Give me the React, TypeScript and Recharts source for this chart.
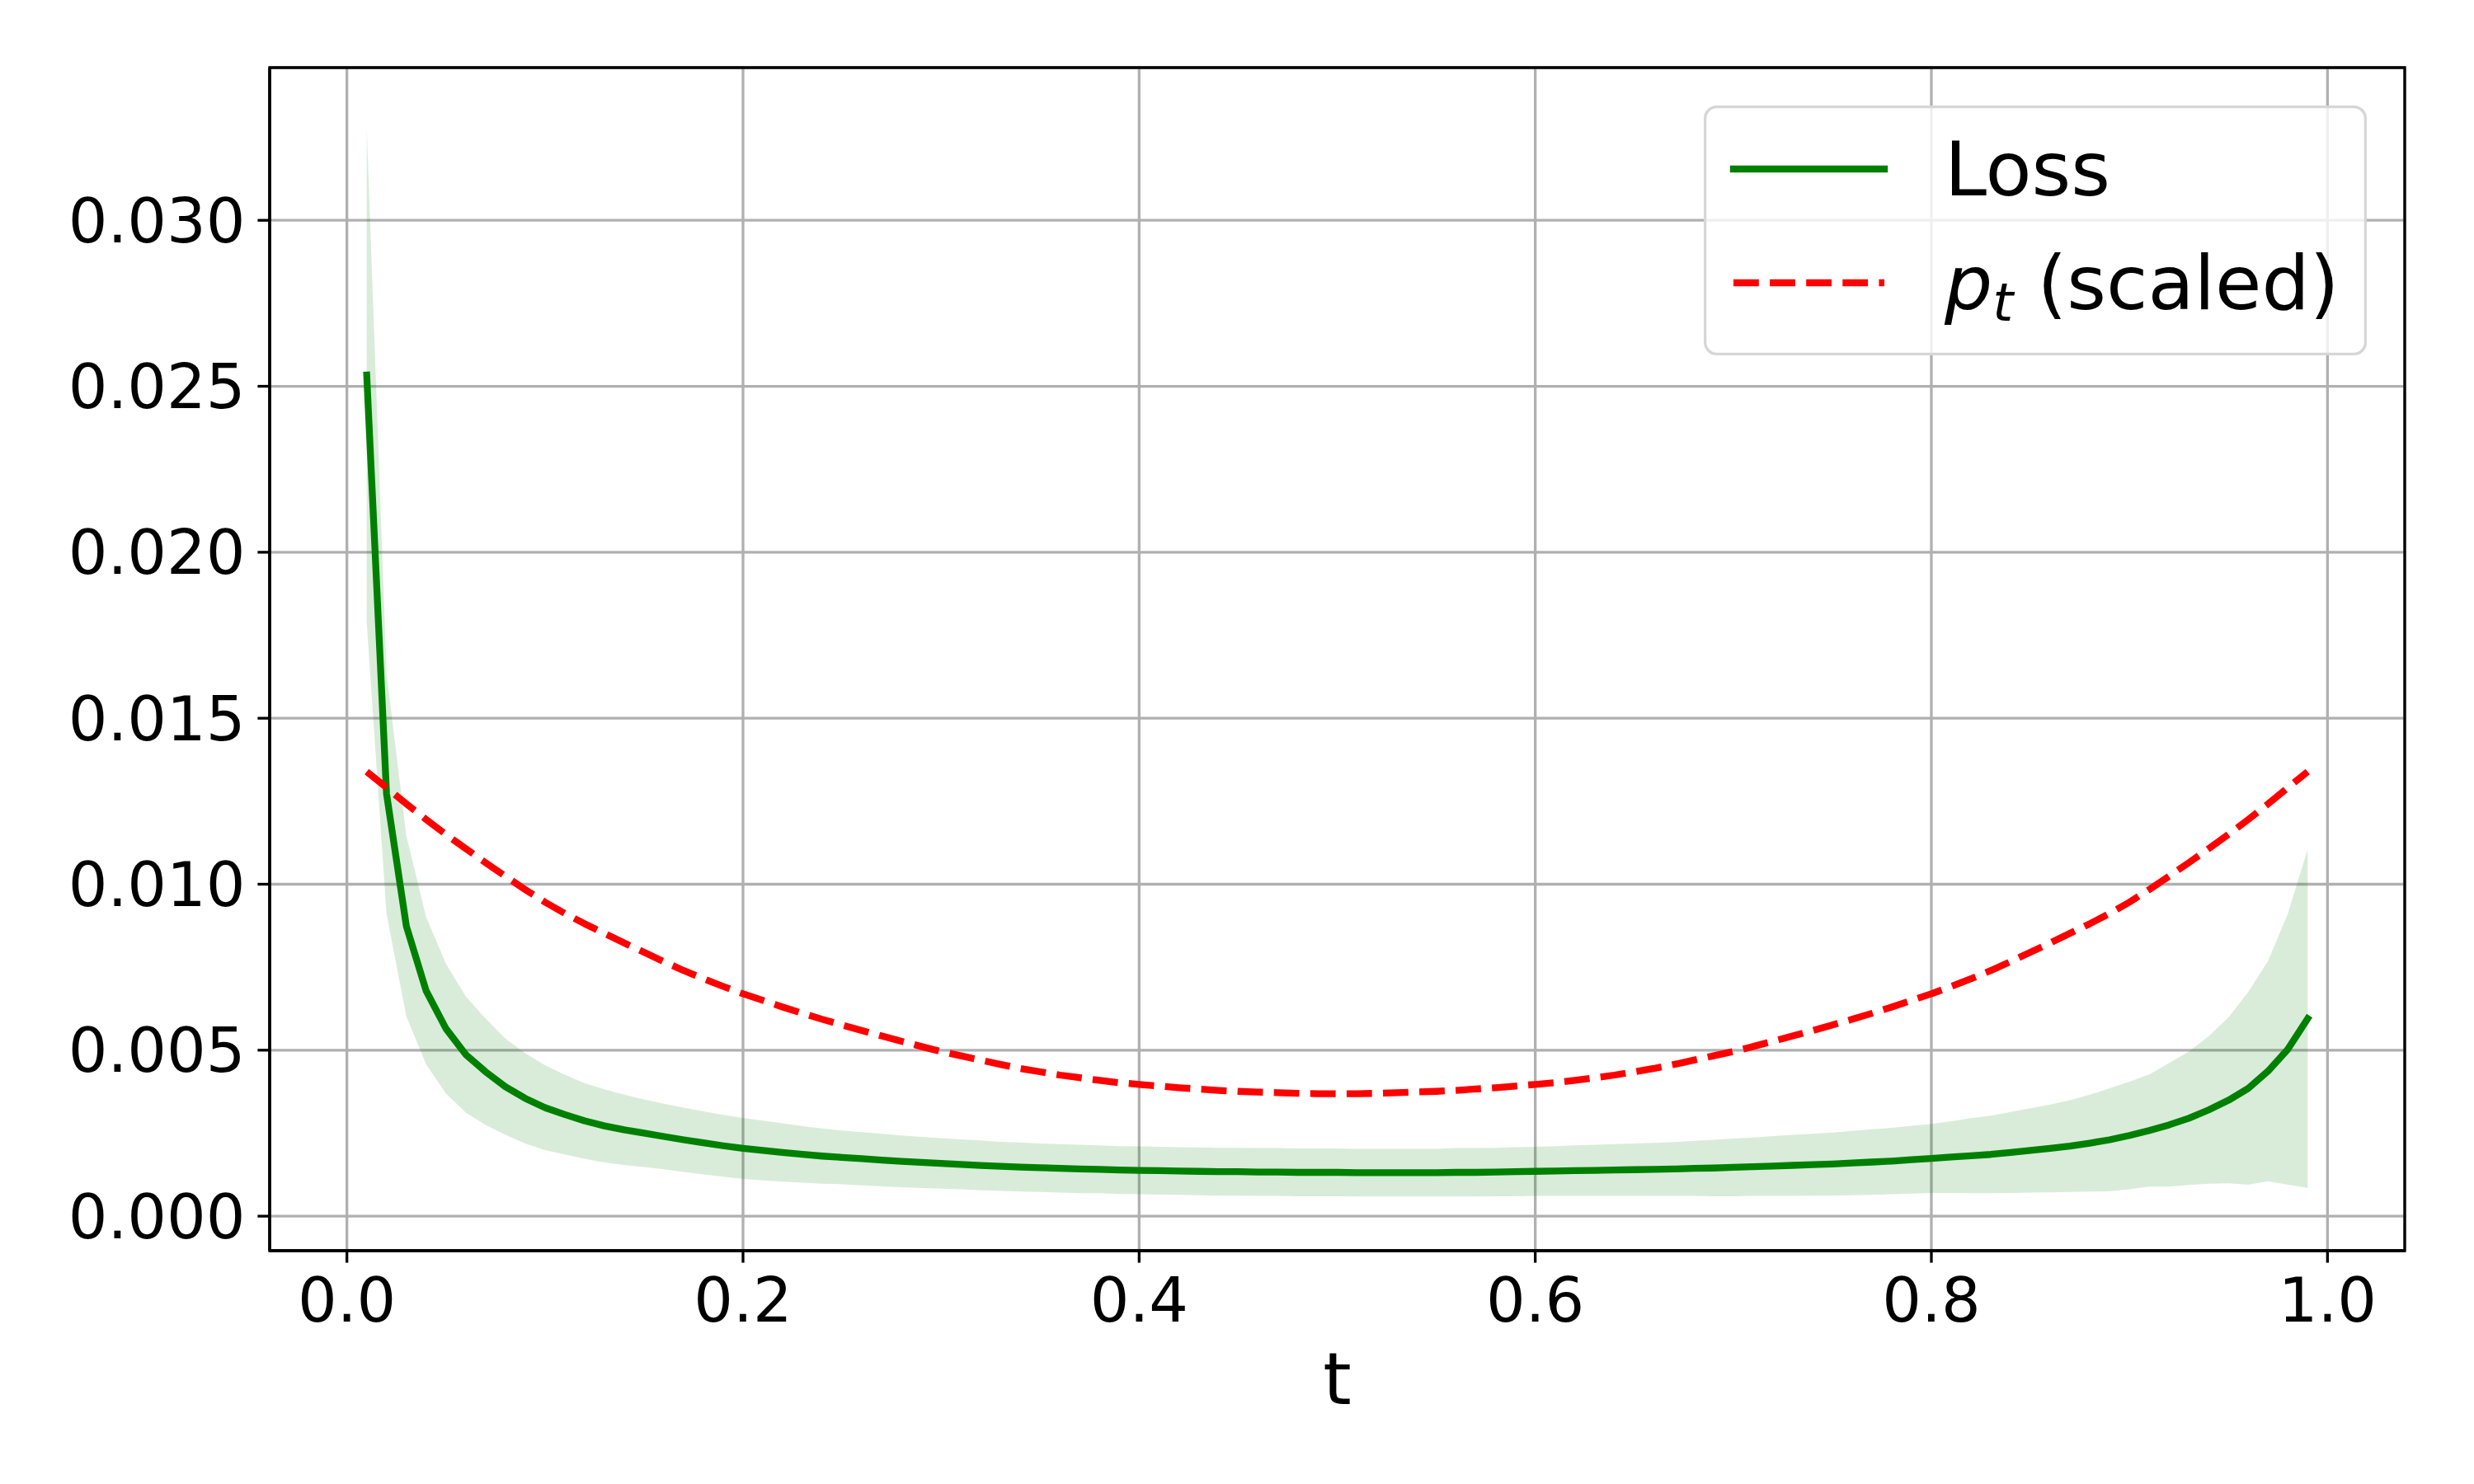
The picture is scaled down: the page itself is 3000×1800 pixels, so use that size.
import {
  ComposedChart,
  Area,
  Line,
  XAxis,
  YAxis,
  CartesianGrid,
  Legend,
  ReferenceArea,
} from 'recharts'

// t grid the run was evaluated on
const tValues = [
  0.01, 0.02, 0.03, 0.04, 0.05, 0.06, 0.07, 0.08, 0.09, 0.1,
  0.11, 0.12, 0.13, 0.14, 0.15, 0.16, 0.17, 0.18, 0.19, 0.2,
  0.21, 0.22, 0.23, 0.24, 0.25, 0.26, 0.27, 0.28, 0.29, 0.3,
  0.31, 0.32, 0.33, 0.34, 0.35, 0.36, 0.37, 0.38, 0.39, 0.4,
  0.41, 0.42, 0.43, 0.44, 0.45, 0.46, 0.47, 0.48, 0.49, 0.5,
  0.51, 0.52, 0.53, 0.54, 0.55, 0.56, 0.57, 0.58, 0.59, 0.6,
  0.61, 0.62, 0.63, 0.64, 0.65, 0.66, 0.67, 0.68, 0.69, 0.7,
  0.71, 0.72, 0.73, 0.74, 0.75, 0.76, 0.77, 0.78, 0.79, 0.8,
  0.81, 0.82, 0.83, 0.84, 0.85, 0.86, 0.87, 0.88, 0.89, 0.9,
  0.91, 0.92, 0.93, 0.94, 0.95, 0.96, 0.97, 0.98, 0.99,
]

const lossMean = [
  0.02534, 0.01273, 0.00874, 0.00679, 0.00565, 0.00487, 0.00435, 0.0039, 0.00355, 0.00327,
  0.00306, 0.00287, 0.00272, 0.0026, 0.0025, 0.0024, 0.0023, 0.00221, 0.00212, 0.00204,
  0.00198, 0.00192, 0.00186, 0.00181, 0.00177, 0.00173, 0.00169, 0.00165, 0.00162, 0.00159,
  0.00156, 0.00153, 0.0015, 0.00148, 0.00146, 0.00144, 0.00142, 0.00141, 0.00139, 0.00138,
  0.00137, 0.00136, 0.00135, 0.00134, 0.00134, 0.00133, 0.00133, 0.00132, 0.00132, 0.00132,
  0.00131, 0.00131, 0.00131, 0.00131, 0.00131, 0.00132, 0.00132, 0.00133, 0.00134, 0.00135,
  0.00136, 0.00137, 0.00138, 0.00139, 0.0014, 0.00141, 0.00142, 0.00144, 0.00145, 0.00147,
  0.00149, 0.00151, 0.00153, 0.00155, 0.00157, 0.0016, 0.00163, 0.00166, 0.0017, 0.00174,
  0.00178, 0.00182, 0.00186, 0.00192, 0.00198, 0.00204, 0.00211, 0.0022, 0.0023, 0.00243,
  0.00258, 0.00275, 0.00295, 0.0032, 0.00349, 0.00385, 0.00437, 0.00503, 0.00595,
]

const lossStd = [
  0.00746, 0.00362, 0.00272, 0.00222, 0.00195, 0.00175, 0.0016, 0.00145, 0.00136, 0.00128,
  0.0012, 0.00114, 0.0011, 0.00106, 0.00102, 0.00099, 0.00097, 0.00095, 0.00093, 0.00092,
  0.0009, 0.00088, 0.00085, 0.00083, 0.00081, 0.0008, 0.00079, 0.00078, 0.00077, 0.00076,
  0.00075, 0.00075, 0.00074, 0.00074, 0.00073, 0.00073, 0.00073, 0.00072, 0.00072, 0.00072,
  0.00072, 0.00072, 0.00072, 0.00072, 0.00072, 0.00072, 0.00072, 0.00072, 0.00072, 0.00072,
  0.00072, 0.00072, 0.00072, 0.00072, 0.00072, 0.00073, 0.00073, 0.00073, 0.00074, 0.00074,
  0.00075, 0.00076, 0.00077, 0.00078, 0.00079, 0.0008, 0.00081, 0.00083, 0.00085, 0.00087,
  0.00088, 0.0009, 0.00092, 0.00093, 0.00095, 0.00097, 0.00099, 0.001, 0.00102, 0.00104,
  0.00108, 0.00113, 0.00117, 0.00122, 0.00127, 0.00132, 0.00138, 0.00146, 0.00155, 0.00162,
  0.00169, 0.00186, 0.00201, 0.00222, 0.0025, 0.0029, 0.00332, 0.00408, 0.0051,
]

const ptScaled = [
  0.01339, 0.01291, 0.01242, 0.01195, 0.0115, 0.01107, 0.01065, 0.01024, 0.00984, 0.00946,
  0.00912, 0.00881, 0.00852, 0.00823, 0.00795, 0.00767, 0.0074, 0.00715, 0.00692, 0.0067,
  0.0065, 0.0063, 0.00611, 0.00593, 0.00576, 0.00559, 0.00543, 0.00527, 0.00511, 0.00496,
  0.00483, 0.0047, 0.00457, 0.00445, 0.00435, 0.00425, 0.00417, 0.00409, 0.00402, 0.00397,
  0.00392, 0.00387, 0.00383, 0.00379, 0.00376, 0.00374, 0.00372, 0.0037, 0.00369, 0.00369,
  0.00369, 0.0037, 0.00372, 0.00374, 0.00376, 0.00379, 0.00383, 0.00387, 0.00392, 0.00397,
  0.00402, 0.00409, 0.00417, 0.00425, 0.00435, 0.00445, 0.00457, 0.0047, 0.00483, 0.00496,
  0.00511, 0.00527, 0.00543, 0.00559, 0.00576, 0.00593, 0.00611, 0.0063, 0.0065, 0.0067,
  0.00692, 0.00715, 0.0074, 0.00767, 0.00795, 0.00823, 0.00852, 0.00881, 0.00912, 0.00946,
  0.00984, 0.01024, 0.01065, 0.01107, 0.0115, 0.01195, 0.01242, 0.01291, 0.01339,
]

const xTicks = [0, 0.2, 0.4, 0.6, 0.8, 1.0]
const yTicks = [0, 0.005, 0.01, 0.015, 0.02, 0.025, 0.03]

const data = tValues.map((t, i) => ({
  t,
  loss: lossMean[i],
  band: [lossMean[i] - lossStd[i], lossMean[i] + lossStd[i]],
  pt: ptScaled[i],
}))

const X_DOMAIN: [number, number] = [-0.039, 1.039]
const Y_DOMAIN: [number, number] = [-0.00104, 0.0346]
const FONT = '"DejaVu Sans", sans-serif'
const LW = 8.3

// eslint-disable-next-line @typescript-eslint/no-explicit-any
function LegendBox({ payload }: any) {
  const items = (payload ?? []).filter((p: any) => p.type !== 'none')
  return (
    <svg width={804} height={303} style={{ display: 'block', fontFamily: FONT }}>
      <rect x={1.65} y={1.65} width={800.7} height={299.7} rx={14} fill="#fff" fillOpacity={0.8} stroke="#d6d6d6" strokeWidth={3.3} />
      {items.map((item: any, i: number) => {
        const cy = 77 + i * 138
        const dash = item.payload?.strokeDasharray
        return (
          <g key={item.dataKey ?? i}>
            <line
              x1={36}
              x2={219}
              y1={cy}
              y2={cy}
              stroke={item.color}
              strokeWidth={LW}
              strokeDasharray={dash}
              strokeLinecap={dash ? 'butt' : 'square'}
            />
            {item.dataKey === 'pt' ? (
              <text x={292} y={cy + 32} fontSize={91.7} fill="#000">
                <tspan fontStyle="italic">p</tspan>
                <tspan fontStyle="italic" fontSize={64} dy={14}>t</tspan>
                <tspan dy={-14}> (scaled)</tspan>
              </text>
            ) : (
              <text x={292} y={cy + 32} fontSize={91.7} fill="#000">{item.value}</text>
            )}
          </g>
        )
      })}
    </svg>
  )
}

export default function App() {
  return (
    <div style={{ width: 3000, height: 1800, background: '#fff', fontFamily: FONT }}>
      <style>{'body { margin: 0; }'}</style>
      <ComposedChart
        width={3000}
        height={1800}
        data={data}
        margin={{ top: 82, right: 84, bottom: 0, left: 0 }}
        style={{ fontFamily: FONT }}
      >
        <Area
          dataKey="band"
          type="linear"
          stroke="none"
          fill="#008000"
          fillOpacity={0.15}
          legendType="none"
          isAnimationActive={false}
          activeDot={false}
        />
        <CartesianGrid stroke="#b0b0b0" strokeWidth={3.3} />
        <XAxis
          dataKey="t"
          type="number"
          domain={X_DOMAIN}
          allowDataOverflow
          ticks={xTicks}
          interval={0}
          tickFormatter={(v: number) => v.toFixed(1)}
          tick={{ fontSize: 75, fill: '#000' }}
          tickSize={14.6}
          tickMargin={18}
          height={283}
          axisLine={{ stroke: '#000', strokeWidth: 3.3 }}
          tickLine={{ stroke: '#000', strokeWidth: 3.3 }}
          label={{ value: 't', position: 'insideBottom', offset: 97, fontSize: 88, fill: '#000' }}
        />
        <YAxis
          type="number"
          domain={Y_DOMAIN}
          allowDataOverflow
          ticks={yTicks}
          interval={0}
          tickFormatter={(v: number) => v.toFixed(3)}
          tick={{ fontSize: 75, fill: '#000' }}
          tickSize={14.6}
          tickMargin={15}
          width={327}
          axisLine={{ stroke: '#000', strokeWidth: 3.3 }}
          tickLine={{ stroke: '#000', strokeWidth: 3.3 }}
        />
        <Line
          dataKey="loss"
          name="Loss"
          type="linear"
          stroke="#008000"
          strokeWidth={LW}
          strokeLinejoin="round"
          strokeLinecap="square"
          dot={false}
          activeDot={false}
          isAnimationActive={false}
        />
        <Line
          dataKey="pt"
          name="p_t (scaled)"
          type="linear"
          stroke="#ff0000"
          strokeWidth={LW}
          strokeDasharray="30.8 13.3"
          strokeLinejoin="round"
          dot={false}
          activeDot={false}
          isAnimationActive={false}
        />
        {/* axes frame (matplotlib spines) */}
        <ReferenceArea
          x1={X_DOMAIN[0]}
          x2={X_DOMAIN[1]}
          y1={Y_DOMAIN[0]}
          y2={Y_DOMAIN[1]}
          fill="none"
          fillOpacity={0}
          stroke="#000"
          strokeWidth={3.3}
          strokeOpacity={1}
          ifOverflow="visible"
        />
        <Legend
          layout="horizontal"
          verticalAlign="middle"
          align="center"
          content={<LegendBox />}
          wrapperStyle={{ position: 'absolute', left: 2066, top: 128, width: 804, height: 303 }}
        />
      </ComposedChart>
    </div>
  )
}
